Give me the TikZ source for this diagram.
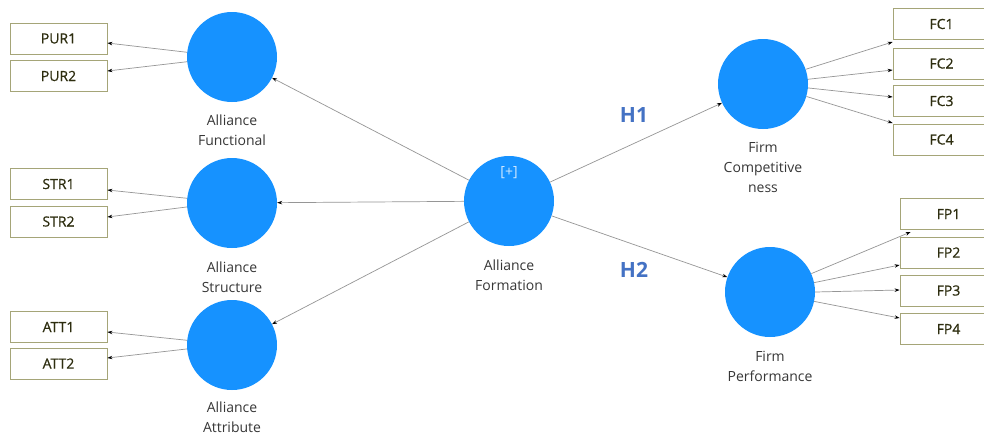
\documentclass[tikz,border=0pt]{standalone}
\usepackage{fontspec}
\setmainfont{Open Sans}
\newfontfamily\boxfont[FakeBold=0.7]{Open Sans}
\usetikzlibrary{arrows.meta,calc}
\definecolor{circ}{RGB}{22,146,255}
\definecolor{boxline}{RGB}{165,165,120}
\definecolor{boxtext}{RGB}{45,45,15}
\definecolor{labtext}{RGB}{55,55,55}
\definecolor{hyp}{RGB}{68,114,196}
\definecolor{conn}{RGB}{150,150,150}
\tikzset{
  latent/.style={circle,fill=circ,draw=none,minimum size=90pt,inner sep=0pt},
  indic/.style={rectangle,draw=boxline,line width=0.8pt,minimum width=97pt,minimum height=31pt,inner sep=0pt,text=boxtext,font=\boxfont\fontsize{14}{16}\selectfont},
  lab/.style={align=center,text=labtext,font=\fontsize{14}{20}\selectfont,inner sep=0pt},
  hlab/.style={text=hyp,font=\fontsize{21}{22}\selectfont\bfseries,inner sep=0pt},
  arr/.style={draw=conn,line width=0.7pt,-{Stealth[length=5pt,width=3.5pt,color=black]}}
}
\begin{document}
\begin{tikzpicture}[x=1pt,y=-1pt]
\useasboundingbox (0,0) rectangle (984,437);
\clip (0,0) rectangle (984,437);
\fill[white] (0,0) rectangle (984,437);
% latent variables
\node[latent] (af) at (232,57) {};
\node[latent] (as) at (232,203) {};
\node[latent] (aat) at (232,345) {};
\node[latent] (form) at (509,201) {};
\node[latent] (fc) at (763,84) {};
\node[latent] (fp) at (770,292) {};
\node[text=white!80!circ,font=\fontsize{14}{15}\selectfont,inner sep=0pt] (plus) at (509,173) {[+]};
% labels
\node[lab] (afl) at (232,130) {Alliance\\Functional};
\node[lab] (asl) at (232,277) {Alliance\\Structure};
\node[lab] (aatl) at (232,417.5) {Alliance\\Attribute};
\node[lab] (forml) at (509,275) {Alliance\\Formation};
\node[lab] (fcl) at (763,167) {Firm\\Competitive\\ness};
\node[lab] (fpl) at (770,366) {Firm\\Performance};
\node[hlab] (h1) at (634,115) {H1};
\node[hlab] (h2) at (634,270) {H2};
% indicators
\node[indic] (pur1) at (58.5,38.5) {PUR1};
\node[indic] (pur2) at (58.5,76) {PUR2};
\node[indic] (str1) at (58.5,184) {STR1};
\node[indic] (str2) at (58.5,221.5) {STR2};
\node[indic] (att1) at (58.5,327) {ATT1};
\node[indic] (att2) at (58.5,363.5) {ATT2};
\node[indic] (fc1) at (941.5,24) {FC1};
\node[indic] (fc2) at (941.5,63.5) {FC2};
\node[indic] (fc3) at (941.5,101) {FC3};
\node[indic] (fc4) at (941.5,139.5) {FC4};
\node[indic] (fp1) at (948.5,214) {FP1};
\node[indic] (fp2) at (948.5,252.5) {FP2};
\node[indic] (fp3) at (948.5,290.5) {FP3};
\node[indic] (fp4) at (948.5,329) {FP4};
% structural paths
\draw[arr] (form) -- (af);
\draw[arr] (form) -- (as);
\draw[arr] (form) -- (aat);
\draw[arr] (form) -- (fc);
\draw[arr] (form) -- (fp);
% measurement paths
\draw[arr] (af.174) -- ($(pur1.east)+(0,4.5)$);
\draw[arr] (af.186) -- ($(pur2.east)+(0,-5)$);
\draw[arr] (as.174) -- ($(str1.east)+(0,6)$);
\draw[arr] (as.185) -- ($(str2.east)+(0,-4.5)$);
\draw[arr] (aat.174) -- ($(att1.east)+(0,5)$);
\draw[arr] (aat.185) -- ($(att2.east)+(0,-5.5)$);
\draw[arr] (fc.19) -- ($(fc1.west)+(0,18)$);
\draw[arr] (fc.6) -- ($(fc2.west)+(0,6.5)$);
\draw[arr] (fc.-5) -- ($(fc3.west)+(0,-4)$);
\draw[arr] (fc.-16) -- ($(fc4.west)+(0,-16.5)$);
\draw[arr] (fp.24) -- ($(fp1.west)+(11,18)$);
\draw[arr] (fp.12) -- ($(fp2.west)+(0,12.5)$);
\draw[arr] (fp.0) -- ($(fp3.west)+(0,-0.5)$);
\draw[arr] (fp.-12) -- ($(fp4.west)+(0,-11)$);
\end{tikzpicture}
\end{document}
